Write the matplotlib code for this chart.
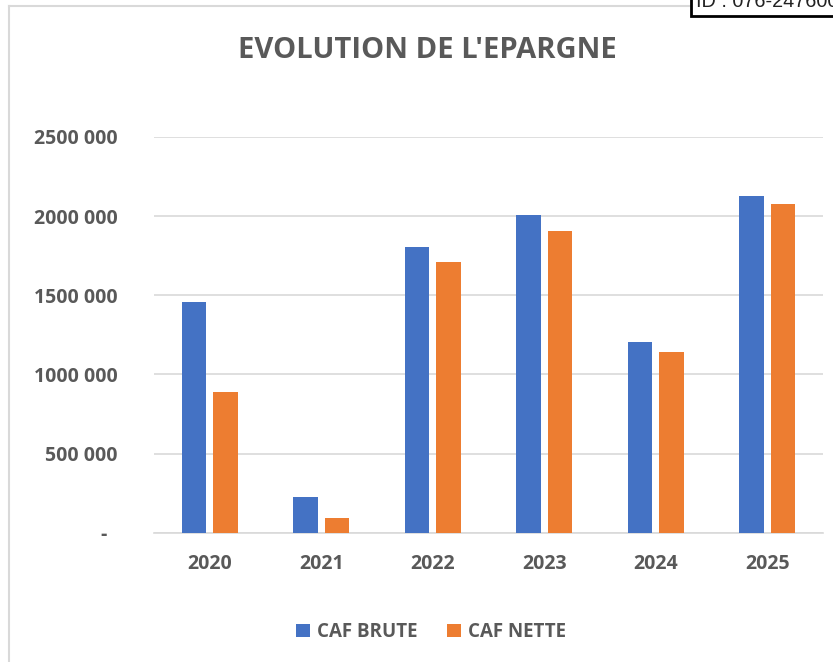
import matplotlib.pyplot as plt
import numpy as np
from matplotlib.patches import Rectangle

# Data
years = ["2020", "2021", "2022", "2023", "2024", "2025"]
caf_brute = [1458000, 224000, 1807000, 2007000, 1205000, 2129000]
caf_nette = [889000, 95000, 1712000, 1906000, 1141000, 2075000]
series_names = ["CAF BRUTE", "CAF NETTE"]
y_ticks = [0, 500000, 1000000, 1500000, 2000000, 2500000]

BLUE = "#4472C4"
ORANGE = "#ED7D31"
TEXT = "#595959"
GRID = "#D9D9D9"

plt.rcParams['font.family'] = ['Open Sans', 'DejaVu Sans']


def fmt_tick(v):
    if v == 0:
        return "-  "
    s = f"{int(v):,}".replace(",", " ")
    # Excel style: only the last thousands block is separated
    parts = s.split(" ")
    return "".join(parts[:-1]) + " " + parts[-1]


fig = plt.figure(figsize=(8.33, 6.62), dpi=100)

# chart frame (left / top borders visible)
fig.add_artist(plt.Line2D([8.5 / 833, 8.5 / 833], [0, 1 - 6 / 662],
                          color=GRID, lw=1.5, transform=fig.transFigure))
fig.add_artist(plt.Line2D([8.5 / 833, 1], [1 - 6 / 662, 1 - 6 / 662],
                          color=GRID, lw=1.5, transform=fig.transFigure))

ax = fig.add_axes([154 / 833, 1 - 532.7 / 662, 669 / 833, 395.7 / 662])

x = np.arange(len(years))
w = 0.22
off = 0.1425
ax.bar(x - off, caf_brute, w, color=BLUE, label=series_names[0], zorder=3)
ax.bar(x + off, caf_nette, w, color=ORANGE, label=series_names[1], zorder=3)

ax.set_xlim(-0.5, len(years) - 0.5)
ax.set_ylim(0, 2500000)
ax.set_yticks(y_ticks)
ax.set_yticklabels([fmt_tick(v) for v in y_ticks])
ax.set_xticks(x)
ax.set_xticklabels(years)

for lab in ax.get_yticklabels() + ax.get_xticklabels():
    lab.set_fontweight("bold")
    lab.set_fontsize(14)
    lab.set_color(TEXT)

ax.tick_params(axis="y", length=0, pad=26)
ax.tick_params(axis="x", length=0, pad=15.5)
ax.grid(axis="y", color=GRID, lw=1.2, zorder=0)
for s in ["left", "right", "top"]:
    ax.spines[s].set_visible(False)
ax.spines["bottom"].set_color(GRID)
ax.spines["bottom"].set_linewidth(1.2)

fig.text(427 / 833, 1 - 50 / 662, "EVOLUTION DE L'EPARGNE", ha="center",
         va="center", fontsize=21, fontweight="bold", color=TEXT)

leg = fig.legend(loc="center", bbox_to_anchor=(431 / 833, 1 - 632 / 662),
                 ncol=2, frameon=False, handlelength=0.75, handleheight=0.75,
                 handletextpad=0.35, columnspacing=1.6,
                 prop={"weight": "bold", "size": 13.5})
for t in leg.get_texts():
    t.set_color(TEXT)

# ID stamp at top right corner
fig.add_artist(Rectangle((691 / 833, 1 - 16 / 662), 0.2, 0.05,
                         transform=fig.transFigure, facecolor="white",
                         edgecolor="black", lw=2, zorder=5))
fig.text(696 / 833, 1 - 7 / 662, "ID : 076-247600", ha="left",
         va="baseline", fontsize=14.3, color="#222222",
         family="Liberation Sans", zorder=6)

plt.savefig("out.png", dpi=100)
